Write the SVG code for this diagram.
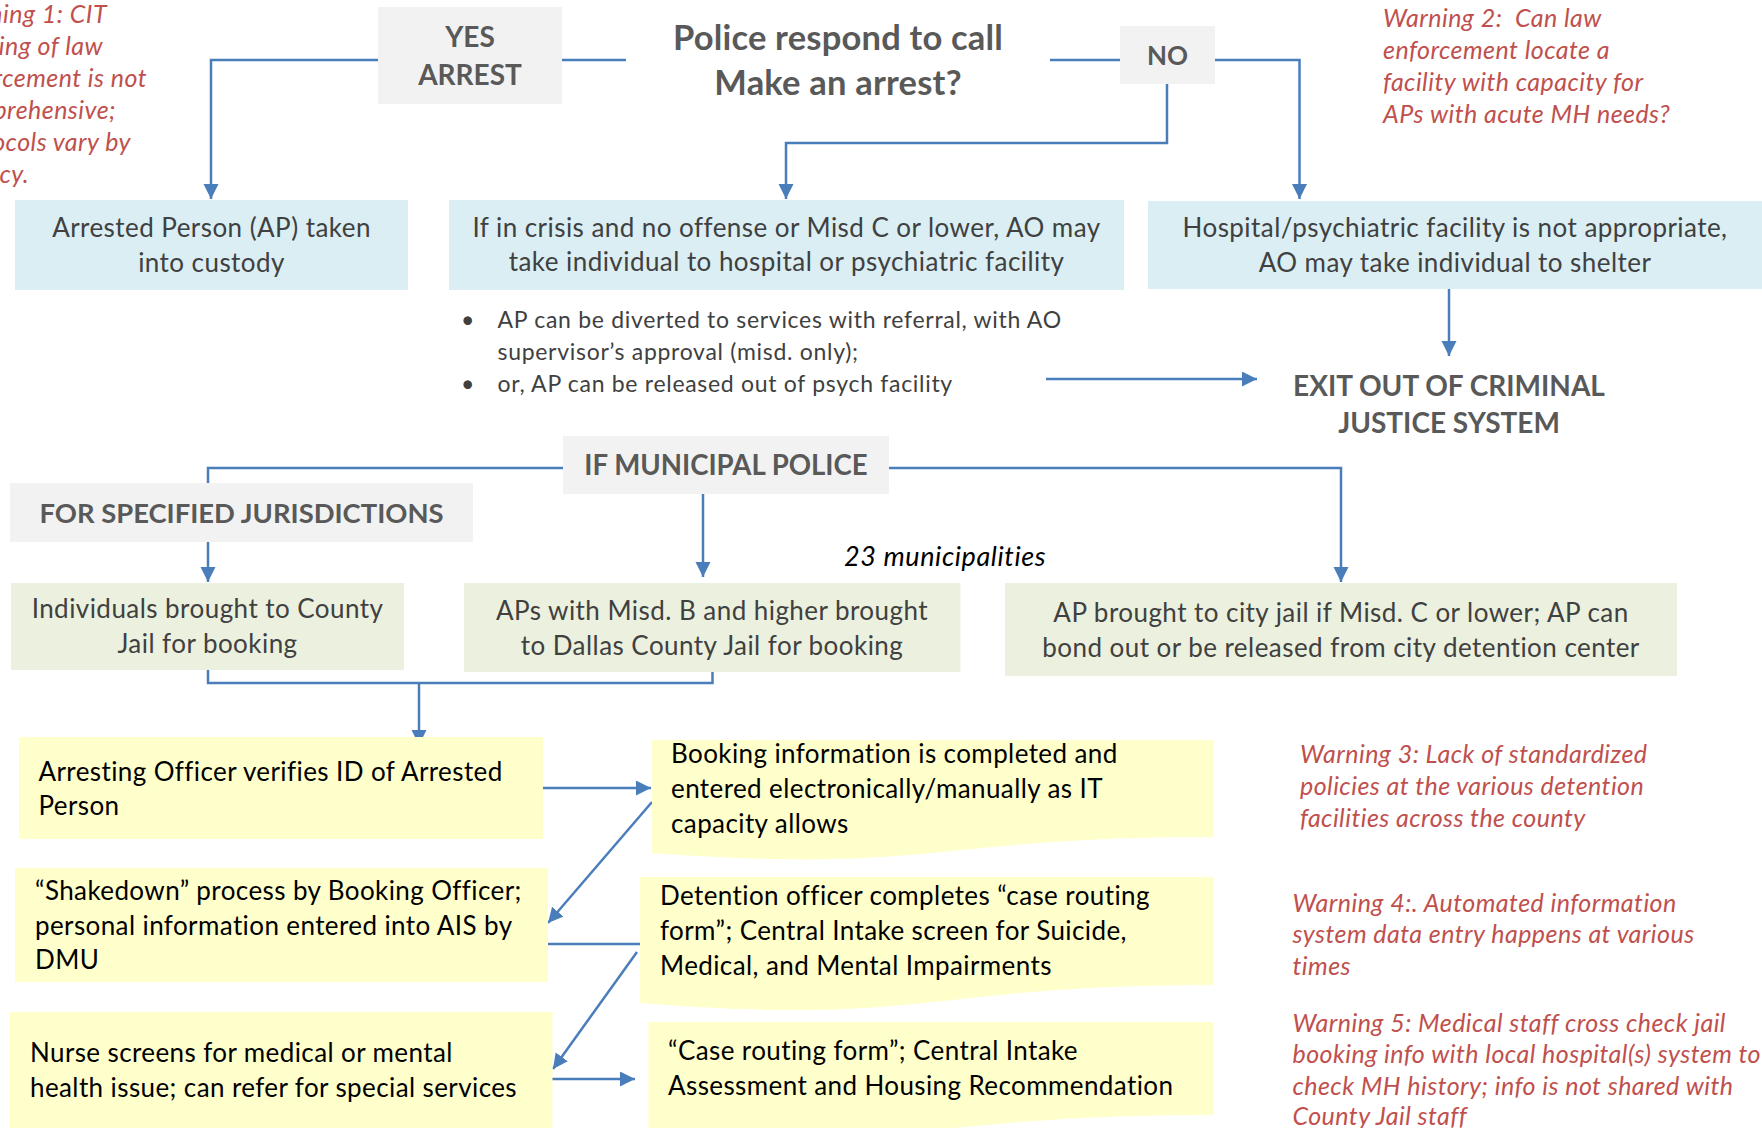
<svg xmlns="http://www.w3.org/2000/svg" width="1762" height="1128" viewBox="0 0 1762 1128">
  <style>
    .hdr { font-family: Lato, "Liberation Sans", sans-serif; font-weight: 700; fill: #595959; text-anchor: middle; }
    .txt { font-family: Lato, "Liberation Sans", sans-serif; font-size: 26px; letter-spacing: 0.45px; fill: #404040; text-anchor: middle; }
    .btxt { font-family: Lato, "Liberation Sans", sans-serif; font-size: 23px; letter-spacing: 0.7px; fill: #404040; }
    .ytxt { font-family: Lato, "Liberation Sans", sans-serif; font-size: 26px; letter-spacing: 0.4px; fill: #000000; }
    .warn { font-family: Lato, "Liberation Sans", sans-serif; font-size: 25px; letter-spacing: 0.45px; font-style: italic; fill: #C0504D; }
    .note { font-family: Lato, "Liberation Sans", sans-serif; font-size: 27px; letter-spacing: 0.6px; font-style: italic; fill: #000000; }
    .grey { fill: #F2F2F2; }
    .blue { fill: #DAEEF3; }
    .green { fill: #EBF1DE; }
    .yellow { fill: #FFFFCC; }
    .edge { fill: none; stroke: #4A7EBB; stroke-width: 2.5; }
    .arrow { marker-end: url(#head); }
  </style>
  <defs>
    <marker id="head" markerUnits="userSpaceOnUse" markerWidth="16" markerHeight="16" refX="15" refY="7.5" orient="auto">
      <path d="M0,0 L15,7.5 L0,15 Z" fill="#4A7EBB"/>
    </marker>
  </defs>

  <rect width="1762" height="1128" fill="#FFFFFF"/>

  <!-- connectors -->
  <g id="connectors">
    <path class="edge arrow" d="M378,60 H211 V199"/>
    <path class="edge" d="M562,60 H626"/>
    <path class="edge" d="M1050,60 H1120"/>
    <path class="edge arrow" d="M1167,84 V143 H786 V199"/>
    <path class="edge arrow" d="M1215,60 H1299.5 V199"/>
    <path class="edge arrow" d="M1449,289 V356"/>
    <path class="edge arrow" d="M1046,379 H1257"/>
    <path class="edge" d="M563,468 H208 V483"/>
    <path class="edge arrow" d="M208,542 V582"/>
    <path class="edge arrow" d="M703,494 V577"/>
    <path class="edge arrow" d="M889,468 H1341 V582"/>
    <path class="edge" d="M208,670 V683 H712.5 V672"/>
    <path class="edge arrow" d="M419,683 V745"/>
    <path class="edge arrow" d="M531,788 H651"/>
    <path class="edge arrow" d="M652,802 L548,923"/>
    <path class="edge arrow" d="M539,944 H659"/>
    <path class="edge arrow" d="M637,952 L553,1069"/>
    <path class="edge arrow" d="M543,1079 H635"/>
  </g>

  <!-- decision header -->
  <g id="question">
    <text class="hdr" x="838" y="50" font-size="34.5" letter-spacing="0.2">Police respond to call</text>
    <text class="hdr" x="838" y="95" font-size="34.5" letter-spacing="0.2">Make an arrest?</text>
  </g>

  <g id="yes-arrest">
    <rect class="grey" x="378" y="7" width="184" height="97"/>
    <text class="hdr" x="470" y="47" font-size="28">YES</text>
    <text class="hdr" x="470" y="85" font-size="28">ARREST</text>
  </g>

  <g id="no">
    <rect class="grey" x="1120" y="26" width="95" height="58"/>
    <text class="hdr" x="1167.5" y="65" font-size="26">NO</text>
  </g>

  <g id="custody">
    <rect class="blue" x="15" y="200" width="393" height="90"/>
    <text class="txt" x="211.5" y="237">Arrested Person (AP) taken</text>
    <text class="txt" x="211.5" y="272">into custody</text>
  </g>

  <g id="crisis">
    <rect class="blue" x="449" y="200" width="675" height="90"/>
    <text class="txt" x="786.5" y="237">If in crisis and no offense or Misd C or lower, AO may</text>
    <text class="txt" x="786.5" y="271">take individual to hospital or psychiatric facility</text>
  </g>

  <g id="shelter">
    <rect class="blue" x="1148" y="201" width="614" height="88"/>
    <text class="txt" x="1455" y="237">Hospital/psychiatric facility is not appropriate,</text>
    <text class="txt" x="1455" y="272">AO may take individual to shelter</text>
  </g>

  <g id="diversion">
    <text class="btxt" x="461" y="328">•</text>
    <text class="btxt" x="497.5" y="328">AP can be diverted to services with referral, with AO</text>
    <text class="btxt" x="497.5" y="360">supervisor’s approval (misd. only);</text>
    <text class="btxt" x="461" y="392">•</text>
    <text class="btxt" x="497.5" y="392">or, AP can be released out of psych facility</text>
  </g>

  <g id="exit">
    <text class="hdr" x="1449" y="396" font-size="28">EXIT OUT OF CRIMINAL</text>
    <text class="hdr" x="1449" y="433" font-size="28">JUSTICE SYSTEM</text>
  </g>

  <g id="municipal">
    <rect class="grey" x="563" y="436" width="326" height="58"/>
    <text class="hdr" x="726" y="475" font-size="27.6">IF MUNICIPAL POLICE</text>
  </g>

  <g id="jurisdictions">
    <rect class="grey" x="10" y="483" width="463" height="59"/>
    <text class="hdr" x="241.5" y="523" font-size="27.4">FOR SPECIFIED JURISDICTIONS</text>
  </g>

  <g id="county-jail">
    <rect class="green" x="11" y="583" width="393" height="87"/>
    <text class="txt" x="207.5" y="618">Individuals brought to County</text>
    <text class="txt" x="207.5" y="653">Jail for booking</text>
  </g>

  <g id="dallas-jail">
    <rect class="green" x="464" y="583" width="496.5" height="89"/>
    <text class="txt" x="712" y="620">APs with Misd. B and higher brought</text>
    <text class="txt" x="712" y="655">to Dallas County Jail for booking</text>
  </g>

  <text class="note" x="844" y="566">23 municipalities</text>

  <g id="city-jail">
    <rect class="green" x="1005" y="583" width="672" height="93"/>
    <text class="txt" x="1341" y="622">AP brought to city jail if Misd. C or lower; AP can</text>
    <text class="txt" x="1341" y="657">bond out or be released from city detention center</text>
  </g>

  <!-- booking steps -->
  <g id="verify-id">
    <rect class="yellow" x="19" y="737" width="524" height="102"/>
    <text class="ytxt" x="38.5" y="781">Arresting Officer verifies ID of Arrested</text>
    <text class="ytxt" x="38.5" y="815">Person</text>
  </g>

  <g id="booking-info">
    <path class="yellow" d="M652,740 H1213.5 V837 C933,837 933,874 652,853 Z"/>
    <text class="ytxt" x="671" y="763">Booking information is completed and</text>
    <text class="ytxt" x="671" y="798">entered electronically/manually as IT</text>
    <text class="ytxt" x="671" y="833">capacity allows</text>
  </g>

  <g id="shakedown">
    <rect class="yellow" x="15" y="868" width="533" height="114"/>
    <text class="ytxt" x="35" y="900">“Shakedown” process by Booking Officer;</text>
    <text class="ytxt" x="35" y="935">personal information entered into AIS by</text>
    <text class="ytxt" x="35" y="969">DMU</text>
  </g>

  <g id="case-routing">
    <path class="yellow" d="M640,877 H1213.5 V985 C927,985 927,1026 640,1003 Z"/>
    <text class="ytxt" x="660" y="905">Detention officer completes “case routing</text>
    <text class="ytxt" x="660" y="940">form”; Central Intake screen for Suicide,</text>
    <text class="ytxt" x="660" y="975">Medical, and Mental Impairments</text>
  </g>

  <g id="nurse">
    <rect class="yellow" x="9.5" y="1012" width="543" height="120"/>
    <text class="ytxt" x="30" y="1062">Nurse screens for medical or mental</text>
    <text class="ytxt" x="30" y="1097">health issue; can refer for special services</text>
  </g>

  <g id="housing">
    <path class="yellow" d="M648.5,1022 H1213.5 V1115 C931,1115 931,1150 648.5,1130 Z"/>
    <text class="ytxt" x="668" y="1060">“Case routing form”; Central Intake</text>
    <text class="ytxt" x="668" y="1095">Assessment and Housing Recommendation</text>
  </g>

  <!-- warnings -->
  <g id="warning-1" class="warn" text-anchor="end">
    <text x="107" y="23">Warning 1: CIT</text>
    <text x="103" y="55">training of law</text>
    <text x="147" y="87">enforcement is not</text>
    <text x="116" y="119">comprehensive;</text>
    <text x="131" y="151">protocols vary by</text>
    <text x="29" y="183">agency.</text>
  </g>

  <g id="warning-2" class="warn">
    <text x="1383" y="27" xml:space="preserve">Warning 2:  Can law</text>
    <text x="1383" y="59">enforcement locate a</text>
    <text x="1383" y="91">facility with capacity for</text>
    <text x="1383" y="123">APs with acute MH needs?</text>
  </g>

  <g id="warning-3" class="warn">
    <text x="1300" y="763">Warning 3: Lack of standardized</text>
    <text x="1300" y="795">policies at the various detention</text>
    <text x="1300" y="827">facilities across the county</text>
  </g>

  <g id="warning-4" class="warn">
    <text x="1292.5" y="912">Warning 4:. Automated information</text>
    <text x="1292.5" y="943">system data entry happens at various</text>
    <text x="1292.5" y="975">times</text>
  </g>

  <g id="warning-5" class="warn">
    <text x="1292.5" y="1032">Warning 5: Medical staff cross check jail</text>
    <text x="1292.5" y="1063">booking info with local hospital(s) system to</text>
    <text x="1292.5" y="1095">check MH history; info is not shared with</text>
    <text x="1292.5" y="1125">County Jail staff</text>
  </g>
</svg>
